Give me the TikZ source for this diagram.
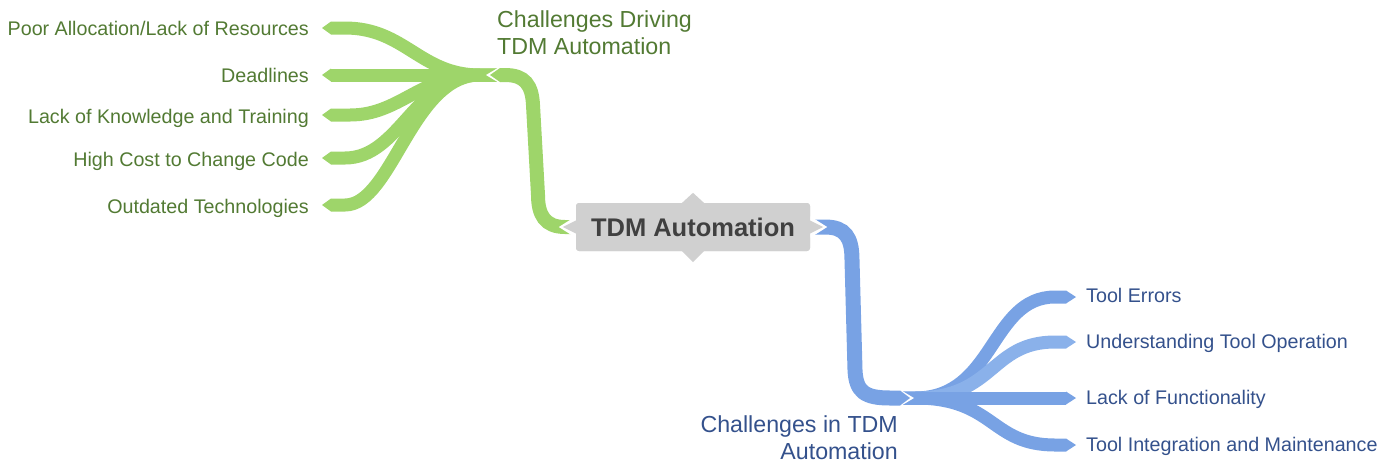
\documentclass[tikz,border=0pt]{standalone}
\usepackage{fontspec}
\setmainfont{Liberation Sans}
\usetikzlibrary{arrows.meta}
\definecolor{gband}{HTML}{9ED56A}
\definecolor{gtext}{HTML}{527A33}
\definecolor{bband}{HTML}{78A2E4}
\definecolor{blight}{HTML}{8AB1EA}
\definecolor{btext}{HTML}{34518C}
\definecolor{cgray}{HTML}{D0D0D0}
\definecolor{ctext}{HTML}{404040}
\begin{document}
\begin{tikzpicture}[x=1pt,y=-1pt,
  gleaf/.style={draw=gband,line width=13pt,-{Triangle[length=9pt,width=13pt,line width=0pt]}},
  bleaf/.style={draw=bband,line width=13pt,-{Triangle[length=10pt,width=13pt,line width=0pt]}},
  gconn/.style={draw=gband,line width=14pt,-{Triangle[length=10pt,width=14pt,line width=0pt]}},
  bconn/.style={draw=bband,line width=15pt,-{Triangle[length=10pt,width=15pt,line width=0pt]}},
  leaftext/.style={inner sep=0pt,font=\fontsize{19.7}{23}\selectfont},
  cattext/.style={inner sep=0pt,font=\fontsize{23.2}{27}\selectfont},
  notch/.style={fill=white},
  cpoint/.style={fill=cgray},
]
\useasboundingbox (0,0) rectangle (1392,464);

% hubs and tips
\coordinate (ghub) at (497,75);
\coordinate (gtip) at (490,75);
\coordinate (bhub) at (903,398);
\coordinate (btip) at (910,398);
\coordinate (g1) at (322,28);
\coordinate (g2) at (322,75);
\coordinate (g3) at (322,115);
\coordinate (g4) at (322,158);
\coordinate (g5) at (322,205);
\coordinate (b1) at (1076,297);
\coordinate (b2) at (1076,342);
\coordinate (b3) at (1076,398);
\coordinate (b4) at (1076,445);

% leaf texts
\node[leaftext,text=gtext,anchor=base east] (lg1) at (309,35) {Poor Allocation/Lack of Resources};
\node[leaftext,text=gtext,anchor=base east] (lg2) at (309,82) {Deadlines};
\node[leaftext,text=gtext,anchor=base east] (lg3) at (309,123) {Lack of Knowledge and Training};
\node[leaftext,text=gtext,anchor=base east] (lg4) at (309,166) {High Cost to Change Code};
\node[leaftext,text=gtext,anchor=base east] (lg5) at (309,213) {Outdated Technologies};
\node[leaftext,text=btext,anchor=base west] (lb1) at (1086,302) {Tool Errors};
\node[leaftext,text=btext,anchor=base west] (lb2) at (1086,348) {Understanding Tool Operation};
\node[leaftext,text=btext,anchor=base west] (lb3) at (1086,404) {Lack of Functionality};
\node[leaftext,text=btext,anchor=base west] (lb4) at (1086,451) {Tool Integration and Maintenance};

% category labels
\node[cattext,text=gtext,anchor=north west,align=left] (cg) at (497,10.3) {Challenges Driving\\TDM Automation};
\node[cattext,text=btext,anchor=north east,align=right] (cb) at (898,415) {Challenges in TDM\\Automation};

% green leaves
\draw[gleaf] (ghub) -- (480,75) .. controls (420,75) and (405,28) .. (345,28) -- (g1);
\draw[gleaf] (ghub) -- (g2);
\draw[gleaf] (ghub) -- (480,75) .. controls (420,75) and (400,115) .. (350,115) -- (g3);
\draw[gleaf] (ghub) -- (480,75) .. controls (415,75) and (400,158) .. (345,158) -- (g4);
\draw[gleaf] (ghub) -- (480,75) .. controls (412,75) and (392,205) .. (345,205) -- (g5);

% blue leaves
\draw[bleaf] (bhub) -- (915,398) .. controls (995,398) and (990,297) .. (1055,297) -- (b1);
\draw[bleaf,draw=blight,-{Triangle[length=10pt,width=13pt,line width=0pt]}] (bhub) -- (915,398) .. controls (995,398) and (990,342) .. (1055,342) -- (b2);
\draw[bleaf] (bhub) -- (b3);
\draw[bleaf] (bhub) -- (915,398) .. controls (995,398) and (990,445) .. (1055,445) -- (b4);

% notches at hubs
\fill[notch] (486,75) -- (501,66) -- (501,84) -- cycle;
\fill[notch] (914,398) -- (899,389) -- (899,407) -- cycle;

% central node
\node[fill=cgray,rounded corners=3pt,minimum width=234pt,minimum height=48pt,inner sep=0pt,
      text=ctext,font=\bfseries\fontsize{25.5}{30}\selectfont] (c) at (693,227) {TDM Automation};

% connectors
\draw[gconn] (c.west) -- (565,227) .. controls (545,227) and (538,215) .. (538,195)
   -- (533,105) .. controls (532,85) and (525,75) .. (505,75) -- (gtip);
\draw[bconn] (c.east) -- (825,227) .. controls (845,227) and (852,237) .. (852,260)
   -- (855,370) .. controls (856,392) and (865,398) .. (890,398) -- (btip);

% white borders of the side points
\fill[notch] ([xshift=-17pt]c.west) -- ([xshift=2pt,yshift=12pt]c.west) -- ([xshift=2pt,yshift=-12pt]c.west) -- cycle;
\fill[notch] ([xshift=17pt]c.east) -- ([xshift=-2pt,yshift=12pt]c.east) -- ([xshift=-2pt,yshift=-12pt]c.east) -- cycle;

% redraw central node on top
\node[fill=cgray,rounded corners=3pt,minimum width=234pt,minimum height=48pt,inner sep=0pt,
      text=ctext,font=\bfseries\fontsize{25.5}{30}\selectfont] (c2) at (c) {TDM Automation};
\fill[cpoint] ([xshift=-13pt]c2.west) -- ([xshift=1pt,yshift=7pt]c2.west) -- ([xshift=1pt,yshift=-7pt]c2.west) -- cycle;
\fill[cpoint] ([xshift=13pt]c2.east) -- ([xshift=-1pt,yshift=7pt]c2.east) -- ([xshift=-1pt,yshift=-7pt]c2.east) -- cycle;
\fill[cpoint] ([xshift=-12pt,yshift=-1pt]c2.north) -- ([yshift=10pt]c2.north) -- ([xshift=12pt,yshift=-1pt]c2.north) -- cycle;
\fill[cpoint] ([xshift=-12pt,yshift=1pt]c2.south) -- ([yshift=-11pt]c2.south) -- ([xshift=12pt,yshift=1pt]c2.south) -- cycle;
\end{tikzpicture}
\end{document}
